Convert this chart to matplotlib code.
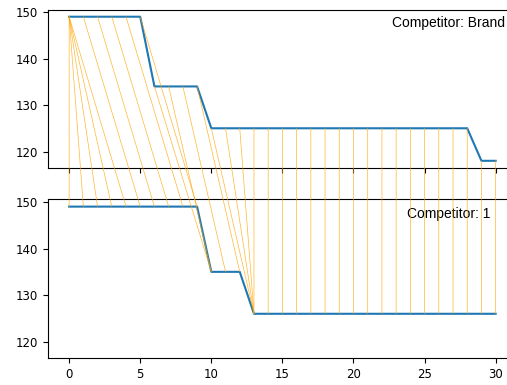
import matplotlib
matplotlib.use("Agg")
import matplotlib.pyplot as plt
from matplotlib.patches import ConnectionPatch

# Series (top: Brand, bottom: competitor 1)
top_values = [149, 149, 149, 149, 149, 149,
              134, 134, 134, 134,
              125, 125, 125, 125, 125, 125, 125, 125, 125, 125,
              125, 125, 125, 125, 125, 125, 125, 125, 125,
              118, 118]
bottom_values = [149, 149, 149, 149, 149, 149, 149, 149, 149, 149,
                 135, 135, 135,
                 126, 126, 126, 126, 126, 126, 126, 126, 126,
                 126, 126, 126, 126, 126, 126, 126, 126, 126]

# Warping path (index into top series, index into bottom series)
path_top = [0, 0, 0, 0, 0, 1, 2, 3, 4, 5, 6, 7, 8, 9, 10, 11, 12, 13, 14, 15,
            16, 17, 18, 19, 20, 21, 22, 23, 24, 25, 26, 27, 28, 29, 30]
path_bottom = [0, 1, 2, 3, 4, 5, 6, 7, 8, 9, 10, 10, 11, 12, 13, 13, 13, 13, 14, 15,
               16, 17, 18, 19, 20, 21, 22, 23, 24, 25, 26, 27, 28, 29, 30]

labels = ["Competitor: Brand", "Competitor: 1"]

fig = plt.figure(figsize=(5.07, 3.85), dpi=100)
ax1 = fig.add_axes([0.0943, 0.5636, 0.9254, 0.4117])
ax2 = fig.add_axes([0.0943, 0.0694, 0.9254, 0.4127], sharex=ax1, sharey=ax1)

ax1.plot(range(len(top_values)), top_values, color="#1f77b4", lw=1.5)
ax2.plot(range(len(bottom_values)), bottom_values, color="#1f77b4", lw=1.5)
ax1.tick_params(labelbottom=False)
for ax in (ax1, ax2):
    ax.tick_params(labelsize=8.5)

ax1.text(0.855, 0.913, labels[0], transform=ax1.transAxes, ha="center", va="center",
         fontsize=10, family=["Liberation Sans", "DejaVu Sans"])
ax2.text(0.855, 0.907, labels[1], transform=ax2.transAxes, ha="center", va="center",
         fontsize=10, family=["Liberation Sans", "DejaVu Sans"])

for i, j in zip(path_top, path_bottom):
    con = ConnectionPatch(xyA=(i, top_values[i]), coordsA=ax1.transData,
                          xyB=(j, bottom_values[j]), coordsB=ax2.transData,
                          lw=0.5, color="orange", alpha=0.8)
    fig.add_artist(con)

fig.savefig("out.png", dpi=100)
